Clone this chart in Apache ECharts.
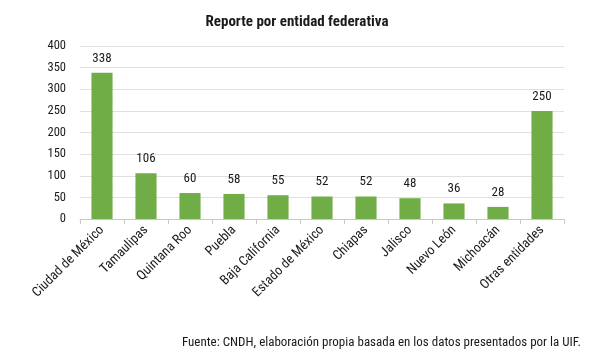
<!DOCTYPE html>
<html><head><meta charset="utf-8">
<script src="https://cdn.jsdelivr.net/npm/echarts@6/dist/echarts.min.js"></script>
<style>html,body{margin:0;padding:0;background:#fff}#c{width:594px;height:355px}</style>
</head><body><div id="c"></div>
<script>
const categories = ["Ciudad de México","Tamaulipas","Quintana Roo","Puebla","Baja California","Estado de México","Chiapas","Jalisco","Nuevo León","Michoacán","Otras entidades"];
const values = [338,106,60,58,55,52,52,48,36,28,250];
const yTicks = [0,50,100,150,200,250,300,350,400];
const FONT = '"Liberation Sans Narrow", "Roboto Condensed", Roboto, sans-serif';
const chart = echarts.init(document.getElementById('c'));
chart.setOption({
  animation:false,
  textStyle:{fontFamily:FONT},
  title:[{text:'Reporte por entidad federativa',left:'center',top:10,textStyle:{fontFamily:FONT,fontSize:15,fontWeight:'bold',color:'#1a1a1a'}},
         {text:'Fuente: CNDH, elaboración propia basada en los datos presentados por la UIF.',right:8,top:331,textStyle:{fontFamily:FONT,fontSize:13,fontWeight:'normal',color:'#1a1a1a'}}],
  grid:{left:80,right:30,top:46,bottom:136},
  xAxis:{type:'category',data:categories,
    axisLine:{lineStyle:{color:'#c8c8c8'}},
    axisTick:{show:true,lineStyle:{color:'#c8c8c8'},length:5},
    axisLabel:{rotate:45,fontFamily:FONT,fontSize:13.5,color:'#1a1a1a',interval:0,margin:9}},
  yAxis:{type:'value',min:yTicks[0],max:yTicks[yTicks.length-1],interval:50,
    axisLabel:{fontFamily:FONT,fontSize:12.5,color:'#1a1a1a',margin:14},
    splitLine:{lineStyle:{color:'#e0e0e0'}},axisLine:{show:false},axisTick:{show:false}},
  series:[{type:'bar',data:values,barWidth:'48%',itemStyle:{color:'#70ad47'},
    label:{show:true,position:'top',fontFamily:FONT,fontSize:13,color:'#1a1a1a',distance:8}}]
});
</script></body></html>
